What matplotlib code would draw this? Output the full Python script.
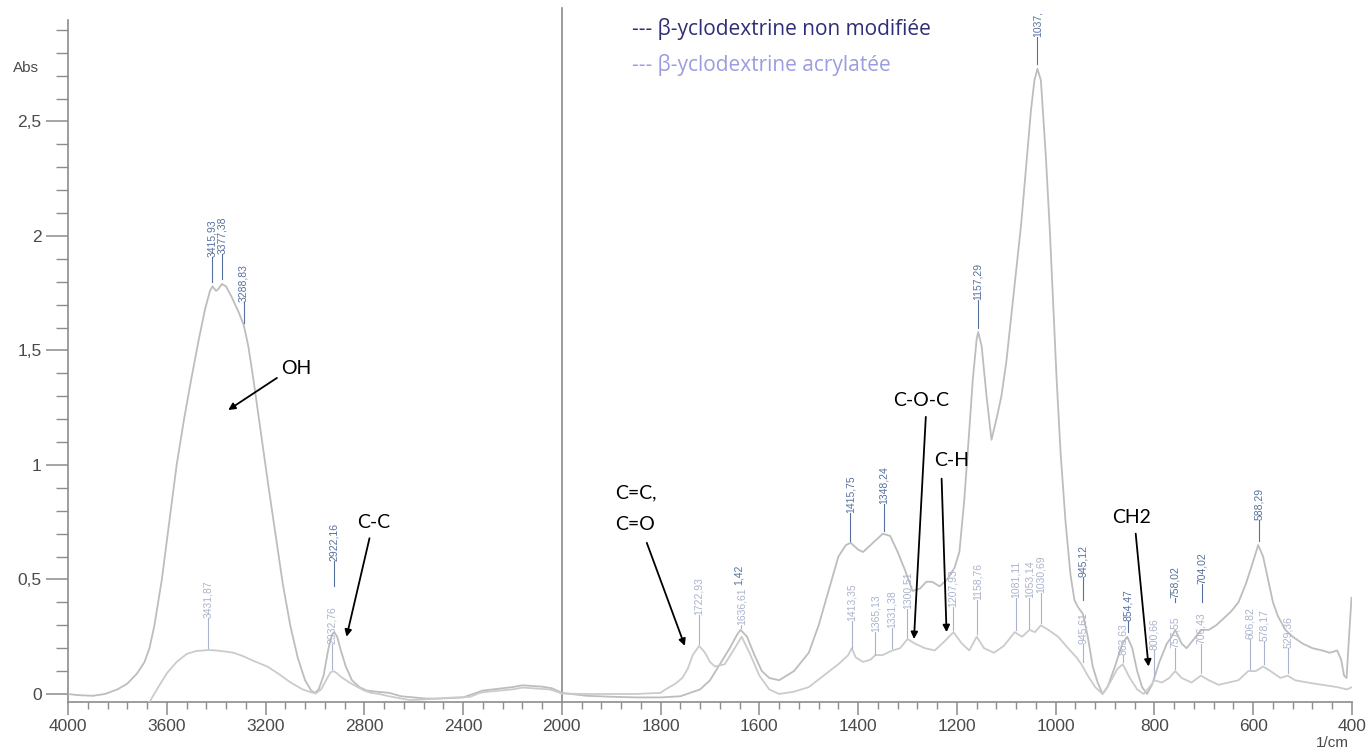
import numpy as np
import matplotlib
matplotlib.use("Agg")
import matplotlib.pyplot as plt
from matplotlib.ticker import FixedLocator, FuncFormatter

# ---------------- data ----------------
nm_wn = [4000, 3960, 3900, 3850, 3800, 3760, 3720, 3690, 3670, 3650, 3620, 3590, 3560, 3530,
         3500, 3470, 3445, 3425, 3415, 3400, 3390, 3377, 3360, 3340, 3310, 3288, 3270, 3250,
         3220, 3190, 3160, 3130, 3100, 3070, 3040, 3015, 3000, 2985, 2965, 2945, 2930, 2922,
         2910, 2895, 2875, 2850, 2820, 2790, 2750, 2700, 2650, 2600, 2550, 2500, 2450, 2400,
         2360, 2320, 2280, 2240, 2200, 2160, 2120, 2080, 2040, 2000,
         1950, 1900, 1850, 1800, 1760, 1720, 1700, 1680, 1660, 1645, 1638, 1625, 1610, 1595,
         1580, 1560, 1530, 1500, 1480, 1460, 1440, 1425, 1415, 1400, 1390, 1370, 1350, 1335,
         1320, 1305, 1290, 1275, 1262, 1250, 1235, 1220, 1205, 1195, 1185, 1175, 1168, 1160,
         1157, 1150, 1140, 1130, 1120, 1110, 1100, 1090, 1080, 1070, 1060, 1050, 1043, 1037,
         1030, 1020, 1012, 1005, 998, 990, 980, 970, 962, 955, 945, 935, 925, 915, 905, 895,
         880, 865, 855, 845, 835, 825, 815, 805, 790, 775, 765, 758, 745, 735, 720, 705, 690,
         675, 660, 645, 630, 615, 600, 590, 580, 570, 560, 550, 535, 520, 500, 480, 460, 445,
         430, 422, 416, 411, 406, 401]
nm_abs = [0.00, -0.005, -0.008, 0.0, 0.02, 0.045, 0.09, 0.14, 0.2, 0.3, 0.5, 0.75, 1.0, 1.2,
          1.38, 1.55, 1.68, 1.76, 1.78, 1.76, 1.77, 1.79, 1.78, 1.74, 1.67, 1.61, 1.52, 1.38,
          1.15, 0.92, 0.7, 0.48, 0.3, 0.16, 0.06, 0.015, 0.005, 0.02, 0.08, 0.2, 0.26, 0.27,
          0.25, 0.19, 0.12, 0.06, 0.03, 0.015, 0.01, 0.005, -0.01, -0.015, -0.02, -0.02, -0.018, -0.015,
          0.0, 0.015, 0.02, 0.025, 0.03, 0.038, 0.035, 0.032, 0.025, 0.005,
          -0.008, -0.012, -0.015, -0.015, -0.01, 0.02, 0.06, 0.13, 0.2, 0.26, 0.28, 0.25, 0.17, 0.1,
          0.07, 0.06, 0.1, 0.18, 0.3, 0.45, 0.6, 0.65, 0.66, 0.63, 0.62, 0.66, 0.70, 0.69,
          0.62, 0.54, 0.45, 0.46, 0.49, 0.49, 0.47, 0.5, 0.55, 0.62, 0.85, 1.15, 1.37, 1.55,
          1.58, 1.52, 1.3, 1.11, 1.2, 1.3, 1.45, 1.65, 1.85, 2.05, 2.3, 2.55, 2.68, 2.73,
          2.68, 2.35, 2.03, 1.7, 1.37, 1.05, 0.75, 0.52, 0.41, 0.38, 0.35, 0.25, 0.12, 0.05, 0.0, 0.03,
          0.12, 0.22, 0.25, 0.2, 0.1, 0.03, 0.0, 0.04, 0.14, 0.22, 0.25, 0.28, 0.22, 0.2, 0.24, 0.28, 0.28,
          0.3, 0.33, 0.36, 0.4, 0.48, 0.58, 0.65, 0.6, 0.5, 0.4, 0.34, 0.28, 0.25, 0.22, 0.2, 0.19, 0.18,
          0.19, 0.15, 0.08, 0.07, 0.25, 0.42]

ac_wn = [4000, 3900, 3800, 3720, 3690, 3670, 3640, 3600, 3560, 3519, 3480, 3451, 3431, 3400,
         3360, 3329, 3290, 3250, 3193, 3150, 3098, 3050, 3017, 2997, 2975, 2950, 2936, 2925,
         2910, 2895, 2860, 2827, 2800, 2773, 2740, 2700, 2650, 2616, 2580, 2500, 2450, 2400,
         2373, 2332, 2300, 2250, 2200, 2158, 2120, 2080, 2050, 2020, 2000,
         1950, 1900, 1850, 1800, 1790, 1770, 1756, 1745, 1735, 1722, 1710, 1700, 1690, 1670,
         1650, 1636, 1620, 1600, 1580, 1560, 1530, 1500, 1470, 1440, 1420, 1413, 1405, 1390,
         1375, 1365, 1350, 1331, 1315, 1300, 1285, 1265, 1245, 1225, 1207, 1190, 1175, 1160,
         1145, 1125, 1105, 1083, 1068, 1053, 1042, 1030, 1015, 995, 975, 958, 948, 935, 920,
         905, 890, 875, 864, 850, 835, 822, 810, 800, 785, 770, 758, 745, 725, 706, 690, 670,
         650, 630, 610, 595, 580, 565, 545, 530, 515, 490, 460, 430, 410, 400]
ac_abs = [-0.06, -0.06, -0.06, -0.06, -0.05, -0.035, 0.02, 0.09, 0.14, 0.175, 0.188, 0.19, 0.192, 0.19,
          0.185, 0.18, 0.165, 0.145, 0.12, 0.09, 0.05, 0.02, 0.008, 0.002, 0.02, 0.07, 0.095, 0.1,
          0.09, 0.075, 0.05, 0.03, 0.015, 0.005, 0.0, -0.01, -0.02, -0.026, -0.025, -0.02, -0.016, -0.014,
          -0.013, 0.005, 0.01, 0.015, 0.02, 0.028, 0.025, 0.022, 0.02, 0.01, 0.002,
          0.0, 0.0, 0.0, 0.005, 0.02, 0.045, 0.07, 0.11, 0.17, 0.21, 0.18, 0.14, 0.12, 0.13,
          0.2, 0.25, 0.18, 0.08, 0.02, 0.0, 0.01, 0.03, 0.08, 0.13, 0.17, 0.2, 0.16, 0.14,
          0.15, 0.17, 0.17, 0.19, 0.2, 0.24, 0.22, 0.2, 0.19, 0.23, 0.27, 0.22, 0.19, 0.25,
          0.2, 0.18, 0.21, 0.27, 0.25, 0.28, 0.27, 0.3, 0.28, 0.25, 0.2, 0.16, 0.13, 0.08, 0.03,
          0.0, 0.05, 0.11, 0.13, 0.07, 0.02, 0.0, 0.03, 0.06, 0.05, 0.07, 0.1, 0.07, 0.05, 0.08, 0.06, 0.04,
          0.05, 0.06, 0.1, 0.1, 0.12, 0.1, 0.07, 0.08, 0.06, 0.05, 0.04, 0.03, 0.02, 0.03]

# peak labels: non-modified (dark) and acrylated (light)
nm_peak_wn = [3415.93, 3377.38, 3288.83, 2922.16, 1415.75, 1348.24, 1157.29, 1037,
              945.12, 854.47, 758.02, 704.02, 588.29]
nm_peak_txt = ["3415,93", "3377,38", "3288,83", "2922,16", "1415,75", "1348,24", "1157,29", "1037,",
               "945,12", "854,47", "758,02", "704,02", "588,29"]
ac_peak_wn = [3431.87, 2932.76, 1722.93, 1636.61, 1413.35, 1365.13, 1331.38, 1300.51, 1207.93,
              1158.76, 1081.11, 1053.14, 1030.69, 945.61, 863.63, 800.66, 757.55, 706.43,
              606.82, 578.17, 529.36]
ac_peak_txt = ["3431,87", "2932,76", "1722,93", "1636,61", "1413,35", "1365,13", "1331,38", "1300,51",
               "1207,93", "1158,76", "1081,11", "1053,14", "1030,69", "945,61", "863,63", "800,66",
               "757,55", "706,43", "606,82", "578,17", "529,36"]
extra_wn, extra_txt = 1641.42, "1,42"

legend_labels = ["--- β-yclodextrine non modifiée", "--- β-yclodextrine acrylatée"]
x_ticks = [4000, 3600, 3200, 2800, 2400, 2000, 1800, 1600, 1400, 1200, 1000, 800, 600, 400]
y_ticks = [0, 0.5, 1, 1.5, 2, 2.5]

# ---------------- layout (pixels / data positions for text) ----------------
nm_lab_line = [1.80, 1.81, 1.62, 0.47, 0.67, 0.71, 1.60, 2.75, 0.41, 0.27, 0.40, 0.40, 0.67]
nm_lab_base = [1.91, 1.92, 1.71, 0.58, 0.79, 0.83, 1.72, 2.87, 0.51, 0.32, 0.42, 0.48, 0.76]
ac_lab_line = [0.20, 0.11, 0.22, 0.29, 0.20, 0.17, 0.20, 0.25, 0.28, 0.26, 0.28, 0.29, 0.31,
               0.14, 0.14, 0.07, 0.11, 0.09, 0.11, 0.13, 0.09]
ac_lab_base = [0.33, 0.22, 0.345, 0.30, 0.32, 0.27, 0.29, 0.37, 0.38, 0.41, 0.42, 0.42, 0.44,
               0.22, 0.17, 0.19, 0.20, 0.22, 0.24, 0.23, 0.20]
extra_base = 0.475

W, H = 1370, 753
fig = plt.figure(figsize=(W / 100, H / 100), dpi=100)
L, R, B, T = 68, 1352, 702, 20
ax = fig.add_axes([L / W, 1 - B / H, (R - L) / W, (B - T) / H])


def fwd(w):
    w = np.asarray(w, float)
    return np.where(w > 2000, 2000 + (w - 2000) / 2, w)


def inv(u):
    u = np.asarray(u, float)
    return np.where(u > 2000, 2000 + (u - 2000) * 2, u)


ax.set_xscale('function', functions=(fwd, inv))
ax.set_xlim(4000, 400)
ax.set_ylim(-0.035, 2.943)

ax.plot(nm_wn, nm_abs, color='#bdbdbd', lw=1.3, zorder=3)
ax.plot(ac_wn, ac_abs, color='#cbcbcb', lw=1.3, zorder=3)

dark_c = '#56709e'
light_c = '#aab3cc'
lab_font = dict(fontsize=7.5, family='Liberation Sans', rotation=90, ha='center', va='bottom')
for w, t, y0, y1 in zip(nm_peak_wn, nm_peak_txt, nm_lab_line, nm_lab_base):
    ax.plot([w, w], [y0, y1], color=dark_c, lw=0.8, zorder=4, clip_on=False)
    ax.text(w, y1, t, color=dark_c, clip_on=False, zorder=5, **lab_font)
for w, t, y0, y1 in zip(ac_peak_wn, ac_peak_txt, ac_lab_line, ac_lab_base):
    ax.plot([w, w], [y0, y1], color=light_c, lw=0.8, zorder=4)
    ax.text(w, y1, t, color=light_c, zorder=5, **lab_font)
ax.text(extra_wn, extra_base, extra_txt, color=dark_c, zorder=5, **lab_font)

# 2000 divider
ax.axvline(2000, ymin=0, ymax=(B - 8) / (B - T), color='#8a8a8a', lw=1.2, clip_on=False, zorder=2)

# axes styling
for s in ['top', 'right']:
    ax.spines[s].set_visible(False)
for s in ['left', 'bottom']:
    ax.spines[s].set_color('#8c8c8c')
    ax.spines[s].set_linewidth(1.2)

ax.xaxis.set_major_locator(FixedLocator(x_ticks))
minor_x = list(np.arange(4000, 2000, -80)) + list(np.arange(2000, 399, -40))
ax.xaxis.set_minor_locator(FixedLocator(minor_x))
ax.xaxis.set_major_formatter(FuncFormatter(lambda v, p: '%d' % round(v)))
ax.yaxis.set_major_locator(FixedLocator(y_ticks))
ax.yaxis.set_minor_locator(FixedLocator(np.round(np.arange(0, 2.95, 0.1), 1)))
ax.yaxis.set_major_formatter(FuncFormatter(lambda v, p: ('%g' % v).replace('.', ',')))

ax.tick_params(axis='x', which='major', direction='out', length=9, width=1.1, color='#8c8c8c',
               labelsize=12.5, labelcolor='#4a4a4a', pad=3)
ax.tick_params(axis='x', which='minor', direction='out', length=5, width=1.0, color='#8c8c8c')
ax.tick_params(axis='y', which='major', direction='out', length=16, width=1.1, color='#8c8c8c',
               labelsize=12.5, labelcolor='#4a4a4a', pad=3)
ax.tick_params(axis='y', which='minor', direction='out', length=8.5, width=1.0, color='#8c8c8c')
for lab in ax.get_xticklabels() + ax.get_yticklabels():
    lab.set_family('Liberation Sans')

fig.text(26 / W, 1 - 68 / H, 'Abs', fontsize=11, family='Liberation Sans', color='#4a4a4a',
         ha='center', va='center')
fig.text(1332 / W, 1 - 743 / H, '1/cm', fontsize=11, family='Liberation Sans', color='#4a4a4a',
         ha='center', va='center')

# legend texts
fig.text(632 / W, 1 - 29 / H, legend_labels[0], fontsize=15, family='Open Sans', color='#2e2e78',
         ha='left', va='center')
fig.text(632 / W, 1 - 65 / H, legend_labels[1], fontsize=15, family='Open Sans', color='#9c9ce0',
         ha='left', va='center')

# annotations with arrows
ann_font = dict(fontsize=14, family='Lato', color='black', ha='center', va='center')
arrow = dict(arrowstyle='-|>', color='black', lw=1.3, mutation_scale=10, shrinkA=0, shrinkB=0)
ax.text(3077, 1.42, 'OH', **ann_font)
ax.annotate('', xy=(3351, 1.24), xytext=(3154, 1.38), arrowprops=arrow)
ax.text(2763, 0.75, 'C-C', **ann_font)
ax.annotate('', xy=(2872, 0.25), xytext=(2779, 0.68), arrowprops=arrow)
ax.text(1850, 0.88, 'C=C,', **ann_font)
ax.text(1852, 0.74, 'C=O', **ann_font)
ax.annotate('', xy=(1751, 0.21), xytext=(1828, 0.66), arrowprops=arrow)
ax.text(1272, 1.28, 'C-O-C', **ann_font)
ax.annotate('', xy=(1287, 0.24), xytext=(1263, 1.21), arrowprops=arrow)
ax.text(1211, 1.02, 'C-H', **ann_font)
ax.annotate('', xy=(1221, 0.27), xytext=(1231, 0.94), arrowprops=arrow)
ax.text(847, 0.77, 'CH2', **ann_font)
ax.annotate('', xy=(812, 0.12), xytext=(838, 0.70), arrowprops=arrow)

fig.savefig('out.png', dpi=100)
